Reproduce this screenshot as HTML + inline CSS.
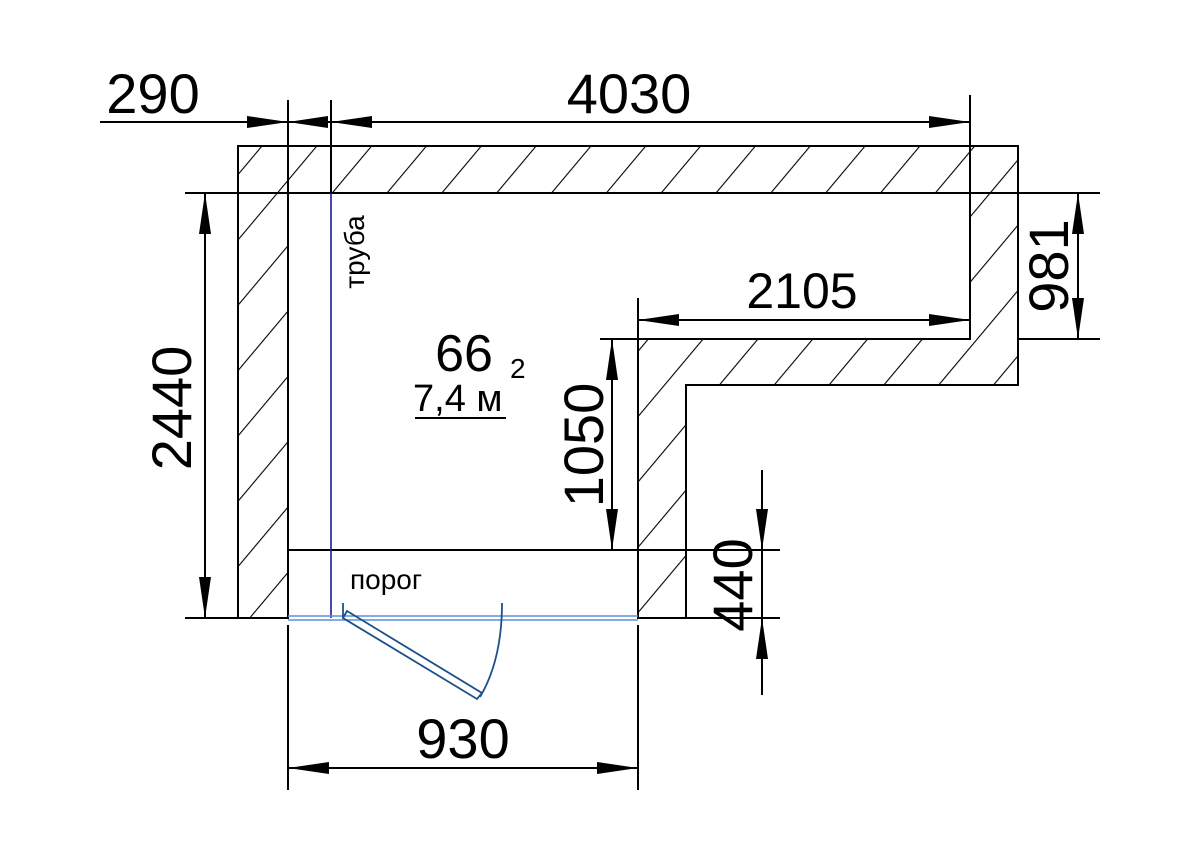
<!DOCTYPE html>
<html><head><meta charset="utf-8"><style>
html,body{margin:0;padding:0;background:#fff;}
svg{display:block;}
text{font-family:"Liberation Sans",sans-serif;fill:#000;}
</style></head><body>
<svg width="1200" height="849" viewBox="0 0 1200 849" xmlns="http://www.w3.org/2000/svg">
<defs>
<pattern id="h" patternUnits="userSpaceOnUse" width="42" height="42" patternTransform="rotate(40)">
<line x1="0" y1="0" x2="0" y2="42" stroke="#000" stroke-width="2.2"/>
</pattern>
</defs>
<g stroke="#000" stroke-width="2" fill="none">
<path d="M238,146 H1018 V385 H686 V618 H638 V339 H970 V193 H288 V618 H238 Z" fill="url(#h)"/>
<line x1="288" y1="550" x2="638" y2="550"/>
<line x1="288" y1="100" x2="288" y2="193"/>
<line x1="331" y1="100" x2="331" y2="193"/>
<line x1="970" y1="95" x2="970" y2="193"/>
<line x1="185" y1="193" x2="288" y2="193"/>
<line x1="185" y1="618" x2="275" y2="618"/>
<line x1="288" y1="625" x2="288" y2="790"/>
<line x1="638" y1="625" x2="638" y2="790"/>
<line x1="638" y1="550" x2="780" y2="550"/>
<line x1="686" y1="618" x2="780" y2="618"/>
<line x1="970" y1="193" x2="1100" y2="193"/>
<line x1="1018" y1="339" x2="1100" y2="339"/>
<line x1="638" y1="298" x2="638" y2="339"/>
<line x1="600" y1="339" x2="638" y2="339"/>
<line x1="100" y1="122" x2="970" y2="122"/>
<line x1="205" y1="193" x2="205" y2="618"/>
<line x1="1078" y1="193" x2="1078" y2="339"/>
<line x1="638" y1="320" x2="970" y2="320"/>
<line x1="612" y1="339" x2="612" y2="550"/>
<line x1="762" y1="470" x2="762" y2="695"/>
<line x1="288" y1="768" x2="638" y2="768"/>
</g>
<g fill="#000">
<polygon points="247,116 288,122 247,128"/>
<polygon points="328,116 288,122 328,128"/>
<polygon points="372,116 331,122 372,128"/>
<polygon points="929,116 970,122 929,128"/>
<polygon points="199,234 205,193 211,234"/>
<polygon points="199,577 205,618 211,577"/>
<polygon points="1072,234 1078,193 1084,234"/>
<polygon points="1072,298 1078,339 1084,298"/>
<polygon points="679,314 638,320 679,326"/>
<polygon points="929,314 970,320 929,326"/>
<polygon points="606,380 612,339 618,380"/>
<polygon points="606,509 612,550 618,509"/>
<polygon points="756,509 762,550 768,509"/>
<polygon points="756,659 762,618 768,659"/>
<polygon points="329,762 288,768 329,774"/>
<polygon points="597,762 638,768 597,774"/>
</g>
<line x1="331" y1="193" x2="331" y2="618" stroke="#1a1aa0" stroke-width="1.6"/>
<line x1="288" y1="616" x2="638" y2="616" stroke="#5b8fd8" stroke-width="1.5"/>
<line x1="288" y1="620" x2="638" y2="620" stroke="#5b8fd8" stroke-width="1.5"/>
<g stroke="#1d4f8a" stroke-width="1.8" fill="none">
<line x1="343" y1="603" x2="343" y2="618"/>
<polygon points="343,618 347,611 482,693 477,699"/>
<path d="M480,697 Q502,660 502,603"/>
</g>
<line x1="415" y1="418" x2="506" y2="418" stroke="#000" stroke-width="2"/>
<text x="153" y="113" font-size="56" text-anchor="middle">290</text>
<text x="629" y="113" font-size="56" text-anchor="middle">4030</text>
<text x="802" y="308" font-size="50" text-anchor="middle">2105</text>
<text x="464" y="371" font-size="52" text-anchor="middle">66</text>
<text x="413" y="411" font-size="38">7,4 м</text>
<text x="510" y="378" font-size="28">2</text>
<text x="350" y="589" font-size="28">порог</text>
<text x="463" y="758" font-size="56" text-anchor="middle">930</text>
<text transform="translate(191,408) rotate(-90)" font-size="56" text-anchor="middle">2440</text>
<text transform="translate(1068,266) rotate(-90)" font-size="56" text-anchor="middle">981</text>
<text transform="translate(603,445) rotate(-90)" font-size="56" text-anchor="middle">1050</text>
<text transform="translate(752,585) rotate(-90)" font-size="56" text-anchor="middle">440</text>
<text transform="translate(364,252) rotate(-90)" font-size="28" text-anchor="middle">труба</text>
</svg>
</body></html>
